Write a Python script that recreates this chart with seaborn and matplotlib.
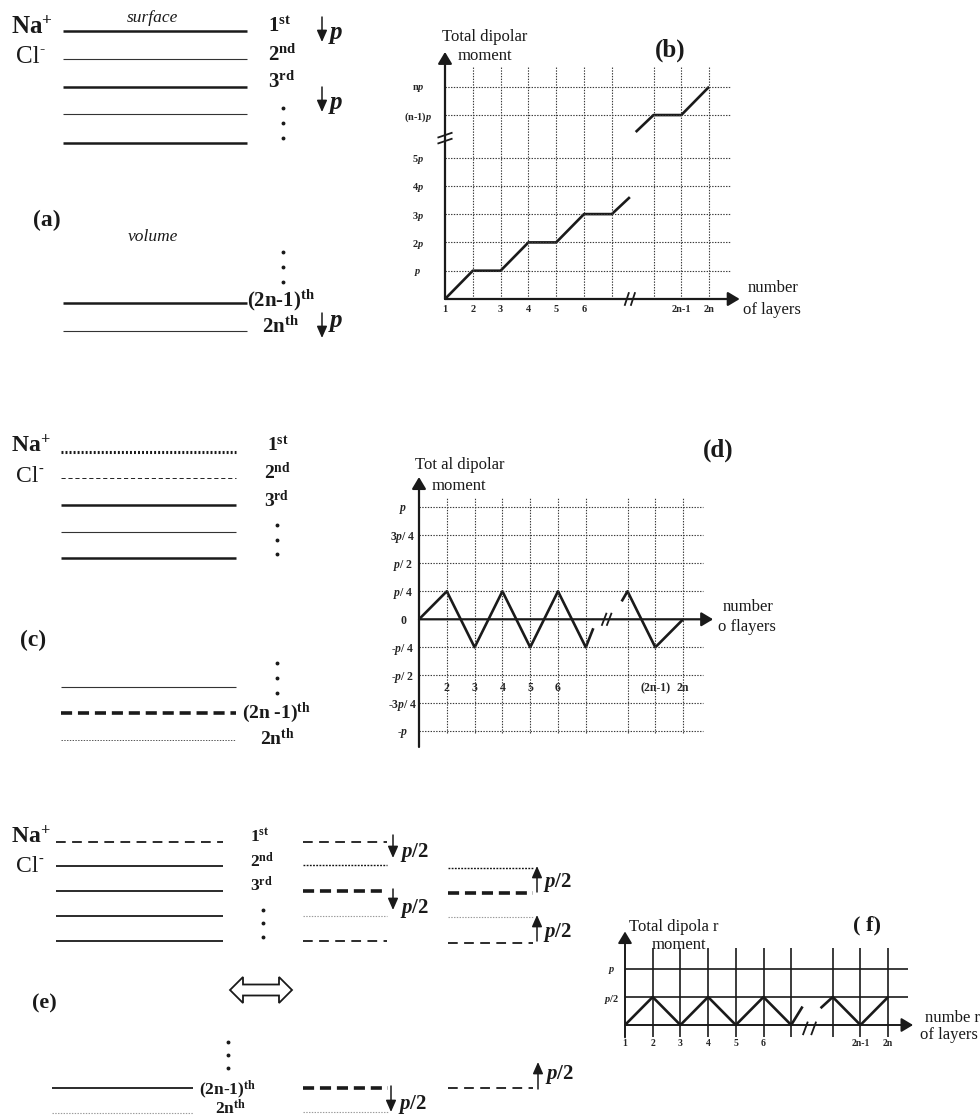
import matplotlib
matplotlib.use("Agg")
import matplotlib.pyplot as plt
import matplotlib.patches as mpatches
import pandas as pd
import seaborn as sns

sns.set_theme(style="white")
plt.rcParams["font.family"] = ["Liberation Serif", "DejaVu Serif"]
plt.rcParams.update({
    "mathtext.fontset": "custom",
    "mathtext.rm": "Liberation Serif:bold",
    "mathtext.it": "Liberation Serif:italic:bold",
    "mathtext.bf": "Liberation Serif:bold",
    "lines.scale_dashes": False,
    "lines.solid_capstyle": "butt",
    "lines.dash_capstyle": "butt",
})

# ---------------------------------------------------------------- data
# layer positions along the stacking axis; values after the axis break sit at 8.5 .. 10.5
layer_grid = [2, 3, 4, 5, 6, 7, 8.5, 9.5, 10.5]

# (b) unreconstructed polar slab: total dipole grows by p every second layer
b_layer_low = [1, 2, 3, 4, 5, 6, 7, 7.65]
b_moment_low = [0, 1, 1, 2, 2, 3, 3, 3.6]
b_layer_high = [7.86, 8.5, 9.5, 10.5]
b_moment_high = [5.9, 6.5, 6.5, 7.5]
b_xtick_pos = [1, 2, 3, 4, 5, 6, 9.5, 10.5]
b_xtick_lab = ["1", "2", "3", "4", "5", "6", "2n-1", "2n"]
b_ytick_pos = [1, 2, 3, 4, 5, 6.5, 7.5]
b_ytick_lab = ["$p$", "2$p$", "3$p$", "4$p$", "5$p$", "(n-1)$p$", "n$p$"]

# (d) half-occupied surface layers: moment oscillates between +p/4 and -p/4
d_layer_low = [1, 2, 3, 4, 5, 6, 7, 7.27]
d_moment_low = [0, 0.25, -0.25, 0.25, -0.25, 0.25, -0.25, -0.08]
d_layer_high = [8.29, 8.5, 9.5, 10.5]
d_moment_high = [0.16, 0.25, -0.25, 0]
d_xtick_pos = [2, 3, 4, 5, 6, 9.5, 10.5]
d_xtick_lab = ["2", "3", "4", "5", "6", "(2n-1)", "2n"]
d_ytick_pos = [1, 0.75, 0.5, 0.25, 0, -0.25, -0.5, -0.75, -1]
d_ytick_lab = ["$p$", "3$p$/ 4", "$p$/ 2", "$p$/ 4", "0", "-$p$/ 4",
               "-$p$/ 2", "-3$p$/ 4", "-$p$"]

# (f) equivalent dipole picture: moment oscillates between 0 and p/2
f_layer_low = [1, 2, 3, 4, 5, 6, 7, 7.41]
f_moment_low = [0, 0.5, 0, 0.5, 0, 0.5, 0, 0.33]
f_layer_high = [8.06, 8.5, 9.5, 10.5]
f_moment_high = [0.3, 0.5, 0, 0.5]
f_xtick_pos = [1, 2, 3, 4, 5, 6, 9.5, 10.5]
f_xtick_lab = ["1", "2", "3", "4", "5", "6", "2n-1", "2n"]
f_ytick_pos = [1, 0.5]
f_ytick_lab = ["$p$", "$p$/2"]

# ---------------------------------------------------------------- figure
W, H = 980, 1117
fig = plt.figure(figsize=(W / 100, H / 100), dpi=100)
fig.patch.set_facecolor("white")

bg = fig.add_axes([0, 0, 1, 1])
bg.set_xlim(0, W)
bg.set_ylim(H, 0)
bg.axis("off")

# line styles for the atomic planes
THICK = dict(lw=1.8, ls="-", color="k")
THIN = dict(lw=0.8, ls="-", color="#333333")
SOLID = dict(lw=1.3, ls="-", color="k")
DOT_THICK = dict(lw=2.2, ls=(0, (1.4, 1.5)), color="k")
DASH_THIN = dict(lw=0.7, ls=(0, (3.0, 2.0)), color="#222222")
DASH_THICK = dict(lw=2.6, ls=(0, (8.0, 4.2)), color="k")
DASH_MED = dict(lw=1.3, ls=(0, (7.0, 4.6)), color="k")
DOT_FINE = dict(lw=0.7, ls=(0, (1.0, 1.0)), color="#555555")
DOT_DARK = dict(lw=1.0, ls=(0, (1.3, 1.0)), color="#111111")
DOT_LIGHT = dict(lw=0.8, ls=(0, (1.0, 1.0)), color="#9a9a9a")


def plane(x0, x1, y, style):
    bg.plot([x0, x1], [y, y], **style)


def label(x, y, s, size, weight="bold", style="normal", ha="left", va="center"):
    bg.text(x, y, s, fontsize=size, fontweight=weight, fontstyle=style,
            ha=ha, va=va, color="k")


def vdots(x, ys):
    bg.plot([x] * len(ys), ys, ls="none", marker="o", ms=1.8, color="k")


def dipole(x, y_from, y_to, text, tx, ty, size):
    bg.annotate("", xy=(x, y_to), xytext=(x, y_from),
                arrowprops=dict(arrowstyle="-|>,head_length=0.5,head_width=0.22",
                                lw=1.1, color="k", shrinkA=0, shrinkB=0,
                                mutation_scale=14))
    bg.text(tx, ty, text, fontsize=size, fontweight="bold", ha="left",
            va="center", color="k")


def ions(y_na, y_cl, size=18):
    label(11, y_na, "Na$^{+}$", size)
    label(16, y_cl, "Cl", size, weight="normal")
    label(16 + 1.3 * size, y_cl - 0.42 * size, "-", size * 0.62, weight="normal")


# ---- (a) polar stacking of the slab
ions(28, 57)
label(152, 18, "surface", 12.5, weight="normal", style="italic", ha="center")
for y, st in zip([30.7, 59, 86.7, 114.3, 142.7], [THICK, THIN, THICK, THIN, THICK]):
    plane(63, 247, y, st)
plane(63, 247, 303.3, THICK)
plane(63, 247, 331, THIN)
label(268, 27, "1$^{\\rm st}$", 15)
label(268, 55, "2$^{\\rm nd}$", 15)
label(268, 82, "3$^{\\rm rd}$", 15)
vdots(283, [108, 123, 138])
label(33, 220, "(a)", 17)
label(153, 237, "volume", 12.5, weight="normal", style="italic", ha="center")
vdots(283, [252, 267, 282])
label(247, 300, "(2n-1)$^{\\rm th}$", 15)
label(262, 327, "2n$^{\\rm th}$", 15)
dipole(322, 17, 42, "$p$", 328, 35, 18)
dipole(322, 87, 112, "$p$", 328, 105, 18)
dipole(322, 313, 338, "$p$", 328, 322, 18)

# ---- (c) surface planes half occupied
ions(446, 476, 17)
for y, st in zip([451.7, 478.3, 505, 531.7, 558.3],
                 [DOT_THICK, DASH_THIN, THICK, THIN, THICK]):
    plane(61, 236, y, st)
plane(61, 236, 686.7, THIN)
plane(61, 236, 713, DASH_THICK)
plane(61, 236, 740, DOT_FINE)
label(267, 445, "1$^{\\rm st}$", 14)
label(264, 473, "2$^{\\rm nd}$", 14)
label(264, 500, "3$^{\\rm rd}$", 14)
vdots(277, [525, 540, 554])
label(20, 640, "(c)", 17)
vdots(277, [663, 678, 693])
label(242, 713, "(2n -1)$^{\\rm th}$", 14)
label(260, 738, "2n$^{\\rm th}$", 14)

# ---- (e) decomposition into p/2 dipoles
ions(837, 866, 17)
plane(56, 223, 841.7, DASH_MED)
for y in [866, 890.7, 916, 941]:
    plane(56, 223, y, SOLID)
plane(52, 193, 1088.3, SOLID)
plane(52, 193, 1112.7, DOT_LIGHT)
label(250, 837, "1$^{\\rm st}$", 12.5)
label(250, 862, "2$^{\\rm nd}$", 12.5)
label(250, 886, "3$^{\\rm rd}$", 12.5)
vdots(263, [910, 923, 937])
label(32, 1003, "(e)", 16)
vdots(228, [1042, 1055, 1068])
label(199, 1090, "(2n-1)$^{\\rm th}$", 12.5)
label(215, 1109, "2n$^{\\rm th}$", 12.5)

# equivalence sign
dbl = [(230, 990), (243, 977), (243, 984.5), (279, 984.5), (279, 977), (292, 990),
       (279, 1003), (279, 995.5), (243, 995.5), (243, 1003)]
bg.add_patch(mpatches.Polygon(dbl, closed=True, fill=False, ec="k", lw=1.3,
                              joinstyle="miter"))

# middle column
for y, st in zip([841.7, 865, 891, 915.7, 940.7],
                 [DASH_MED, DOT_DARK, DASH_THICK, DOT_LIGHT, DASH_MED]):
    plane(303, 387, y, st)
plane(303, 388, 1087.7, DASH_THICK)
plane(303, 388, 1112, DOT_LIGHT)
dipole(393, 835, 858, "$p$/2", 400, 853, 15)
dipole(393, 889, 910, "$p$/2", 400, 908, 15)
dipole(391, 1086, 1112, "$p$/2", 398, 1105, 15)

# right column
for y, st in zip([868.3, 892.7, 917.3, 942.7], [DOT_DARK, DASH_THICK, DOT_LIGHT, DASH_MED]):
    plane(448, 533, y, st)
plane(448, 533, 1088.3, DASH_MED)
dipole(537, 892, 866, "$p$/2", 543, 883, 15)
dipole(537, 941, 915, "$p$/2", 543, 933, 15)
dipole(538, 1089, 1062, "$p$/2", 545, 1075, 15)


# ---------------------------------------------------------------- charts
def chart_axes(origin, unit, xlim, ylim):
    """Axes whose data point (1, 0) lands on pixel `origin` with `unit` px per data unit."""
    (ox, oy), (ux, uy) = origin, unit
    left = ox + (xlim[0] - 1) * ux
    right = ox + (xlim[1] - 1) * ux
    top = oy - ylim[1] * uy
    bottom = oy - ylim[0] * uy
    ax = fig.add_axes([left / W, 1 - bottom / H, (right - left) / W, (bottom - top) / H])
    ax.patch.set_alpha(0)
    for s in ax.spines.values():
        s.set_visible(False)
    ax.grid(False)
    return ax


def moment_curve(ax, lo_x, lo_y, hi_x, hi_y):
    df = pd.DataFrame({
        "layer": lo_x + hi_x,
        "moment": lo_y + hi_y,
        "segment": ["low"] * len(lo_x) + ["high"] * len(hi_x),
    })
    sns.lineplot(data=df, x="layer", y="moment", units="segment", estimator=None,
                 sort=False, color="k", lw=1.9, ax=ax, legend=False)
    ax.set(xlabel="", ylabel="")


def axis_arrow(ax, start, end, lw=1.6):
    ax.annotate("", xy=end, xytext=start, annotation_clip=False,
                arrowprops=dict(arrowstyle="-|>,head_length=0.5,head_width=0.3",
                                lw=lw, color="k", shrinkA=0, shrinkB=0,
                                mutation_scale=14))


def break_mark(ax, centers, hx, hy, lw=1.3):
    for cx, cy in centers:
        ax.plot([cx - hx, cx + hx], [cy - hy, cy + hy], color="k", lw=lw,
                clip_on=False, solid_capstyle="butt")


def ticks(ax, xpos, xlab, ypos, ylab, xsize, ysize, xpad, ypad):
    ax.set_xticks(xpos, xlab, fontsize=xsize, fontweight="bold")
    ax.set_yticks(ypos, ylab, fontsize=ysize, fontweight="bold")
    ax.tick_params(axis="x", length=0, pad=xpad)
    ax.tick_params(axis="y", length=0, pad=ypad)
    for t in ax.get_yticklabels():
        t.set_ha("center")


GRID = dict(colors="#3a3a3a", lw=0.8, linestyles=(0, (1.0, 1.0)))

# ---- (b)
axb = chart_axes((445, 299), (27.8, 28.3), (1, 11.6), (0, 8.73))
moment_curve(axb, b_layer_low, b_moment_low, b_layer_high, b_moment_high)
axb.vlines(layer_grid, 0, 8.2, **GRID)
axb.hlines(b_ytick_pos, 1, 11.25, **GRID)
axis_arrow(axb, (1, 0), (11.6, 0))
axis_arrow(axb, (1, 0), (1, 8.73))
break_mark(axb, [(7.54, 0), (7.76, 0)], 0.08, 0.24)
break_mark(axb, [(1, 5.79), (1, 5.58)], 0.27, 0.09)
axb.set_xlim(1, 11.6)
axb.set_ylim(0, 8.73)
ticks(axb, b_xtick_pos, b_xtick_lab, b_ytick_pos, b_ytick_lab, 7.5, 7.5, 4.5, 19.4)
label(442, 37, "Total dipolar", 12, weight="normal")
label(458, 56, "moment", 12, weight="normal")
label(655, 50, "(b)", 18)
label(748, 288, "number", 12, weight="normal")
label(743, 310, "of layers", 12, weight="normal")

# ---- (d)
axd = chart_axes((419, 619.3), (27.8, 112), (1, 11.6), (-1.14, 1.27))
moment_curve(axd, d_layer_low, d_moment_low, d_layer_high, d_moment_high)
axd.vlines(layer_grid, -1.015, 1.083, **GRID)
axd.hlines([y for y in d_ytick_pos if y != 0], 1, 11.23, **GRID)
axis_arrow(axd, (1, 0), (11.58, 0))
axis_arrow(axd, (1, -1.14), (1, 1.27))
break_mark(axd, [(7.66, 0), (7.84, 0)], 0.09, 0.058)
axd.set_xlim(1, 11.6)
axd.set_ylim(-1.14, 1.27)
axd.spines["bottom"].set_position(("data", -0.54))
ticks(axd, d_xtick_pos, d_xtick_lab, d_ytick_pos, d_ytick_lab, 8.5, 8.5, 1.5, 11.5)
label(415, 465, "Tot al dipolar", 12, weight="normal")
label(432, 486, "moment", 12, weight="normal")
label(703, 450, "(d)", 18)
label(723, 607, "number", 12, weight="normal")
label(718, 627, "o flayers", 12, weight="normal")

# ---- (f)
axf = chart_axes((625, 1025), (27.7, 56), (1, 11.4), (-0.22, 1.67))
moment_curve(axf, f_layer_low, f_moment_low, f_layer_high, f_moment_high)
axf.vlines(layer_grid, -0.22, 1.37, colors="k", lw=1.2)
axf.hlines(f_ytick_pos, 1, 11.22, colors="k", lw=1.2)
axis_arrow(axf, (1, 0), (11.4, 0), lw=1.4)
axis_arrow(axf, (1, -0.22), (1, 1.67), lw=1.4)
break_mark(axf, [(7.51, -0.06), (7.81, -0.06)], 0.09, 0.12)
axf.set_xlim(1, 11.4)
axf.set_ylim(-0.22, 1.67)
ticks(axf, f_xtick_pos, f_xtick_lab, f_ytick_pos, f_ytick_lab, 7, 7.5, 1.0, 9.4)
label(629, 927, "Total dipola r", 12, weight="normal")
label(652, 945, "moment", 12, weight="normal")
label(853, 925, "( f)", 16)
label(925, 1018, "numbe r", 12, weight="normal")
label(920, 1035, "of layers", 12, weight="normal")

fig.savefig("out.png", dpi=100, facecolor="white")
